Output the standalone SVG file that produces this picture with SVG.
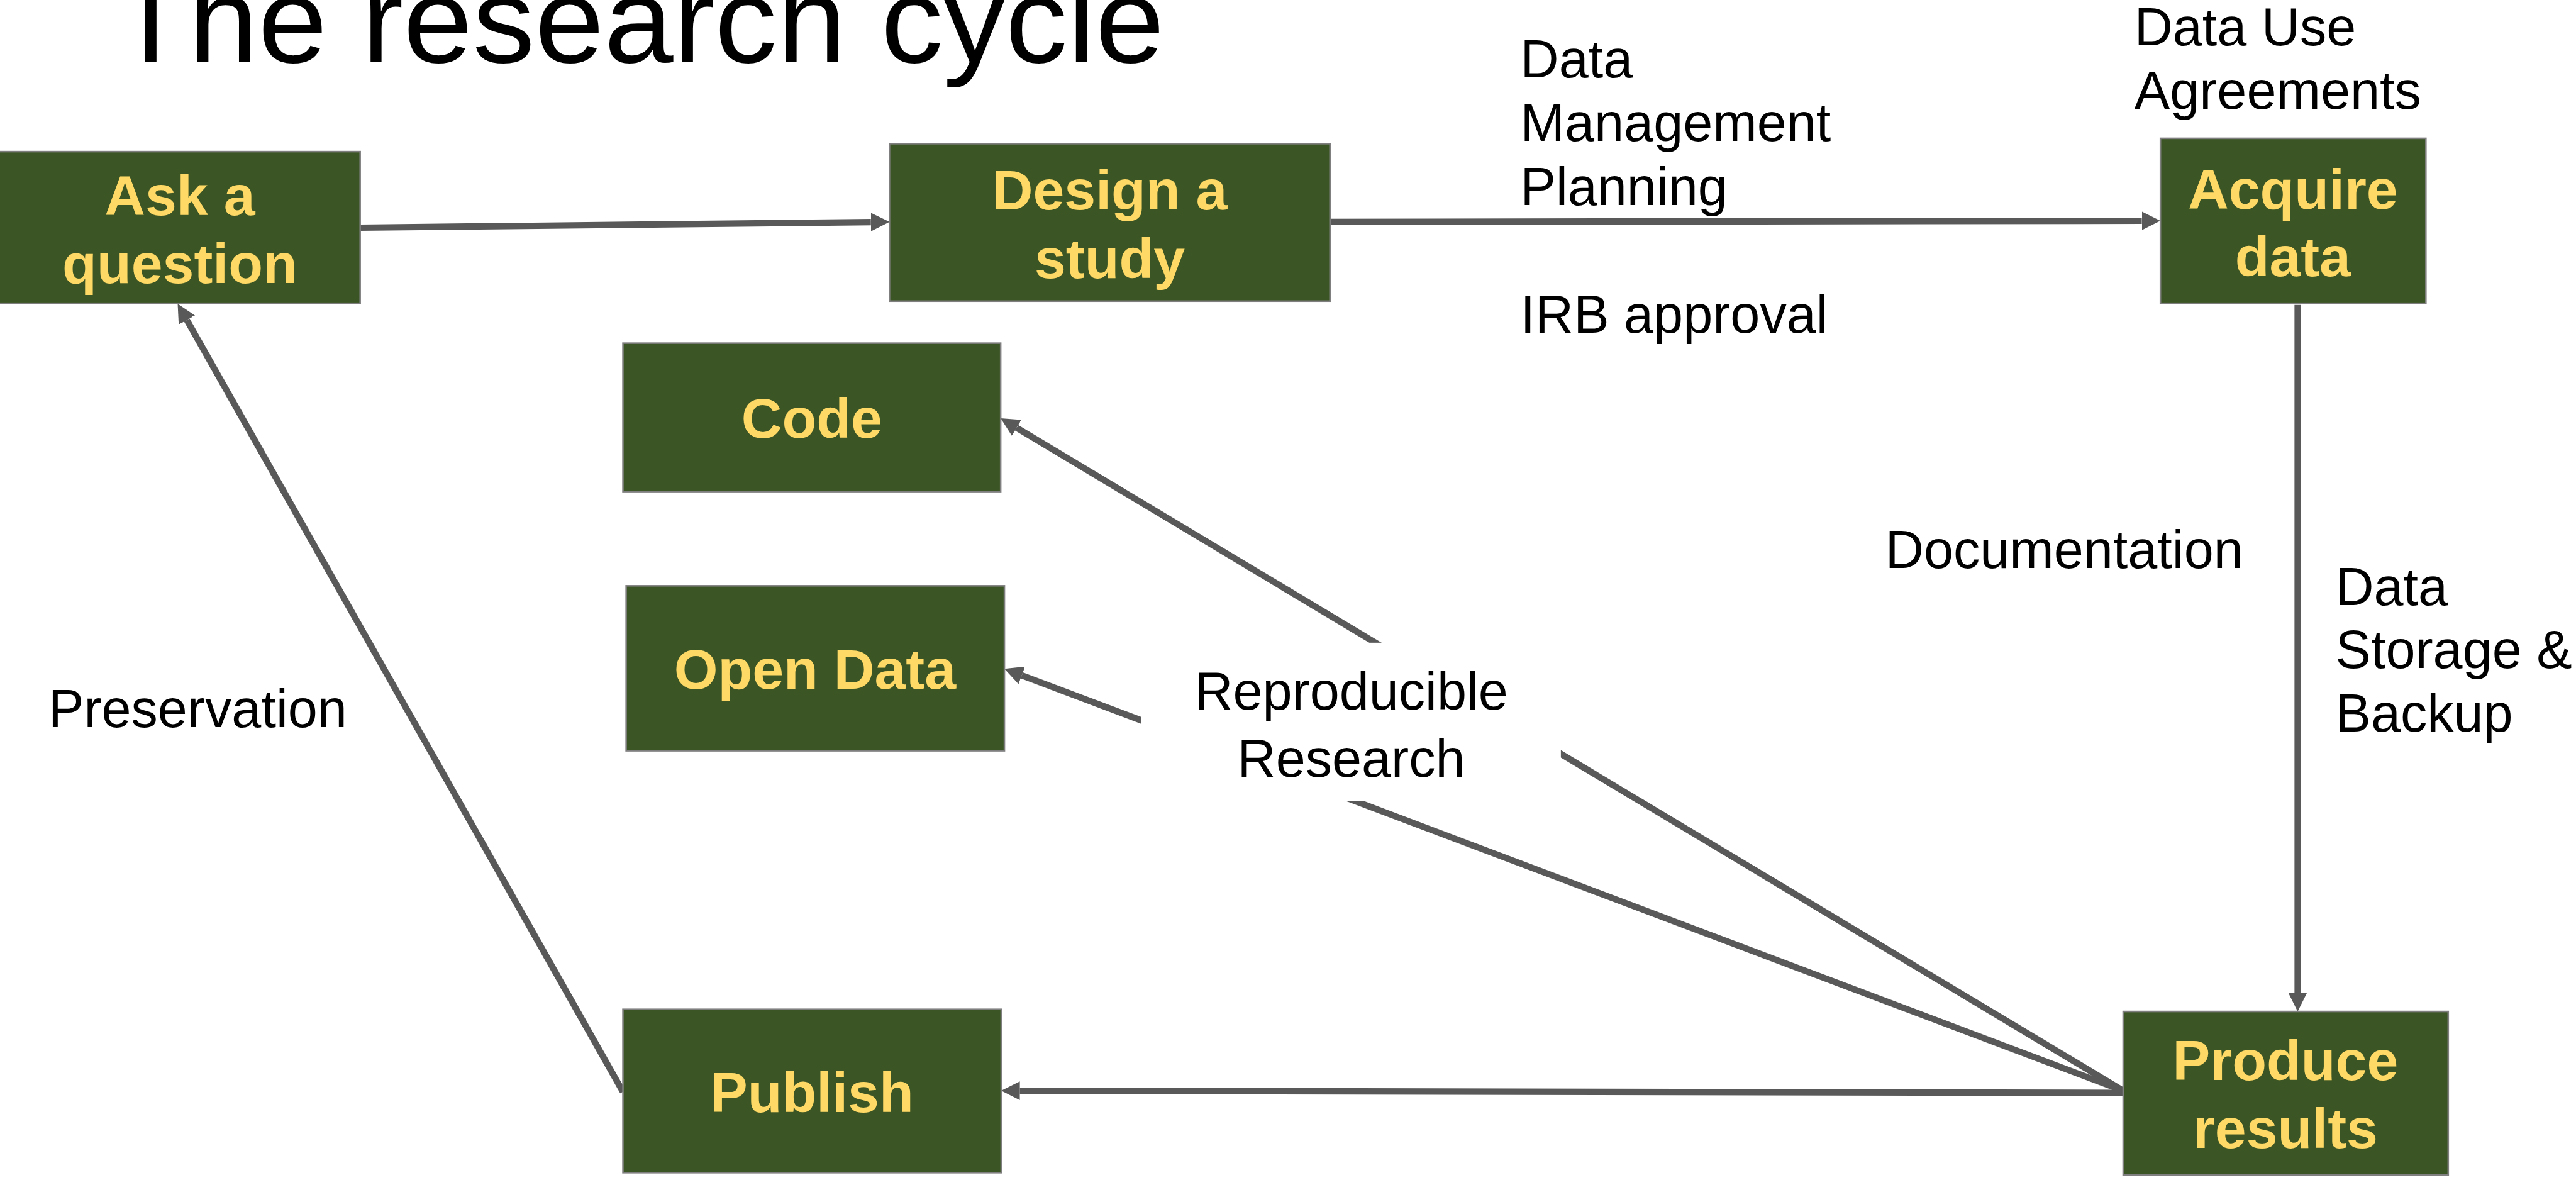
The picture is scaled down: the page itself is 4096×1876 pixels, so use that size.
<svg xmlns="http://www.w3.org/2000/svg" width="4096" height="1876" viewBox="0 0 4096 1876">
<style>
.box{fill:#3B5524;stroke:#7F7F7F;stroke-width:3}
.nt{font-family:"Liberation Sans",Arial,sans-serif;font-weight:bold;font-size:106px;fill:#FFD966;text-anchor:middle}
.lb{font-family:"Liberation Sans",Arial,sans-serif;font-size:100px;fill:#000}
.cn{stroke:#595959;stroke-width:12;fill:none;marker-end:url(#ah)}
</style>
<defs>
<marker id="ah" markerUnits="userSpaceOnUse" markerWidth="35" markerHeight="35" viewBox="0 0 35 35" refX="0" refY="17.5" orient="auto">
<path d="M0,0 L35,17.5 L0,35 z" fill="#595959"/>
</marker>
</defs>
<rect width="4096" height="1876" fill="#fff"/>
<g transform="scale(0.8459)">
<text id="title" x="212" y="117" font-family="'Liberation Sans',Arial,sans-serif" font-size="228" textLength="1977" lengthAdjust="spacingAndGlyphs" fill="#000">The research cycle</text>

<g id="connectors">
<path class="cn" d="M677,428 L1637,417.4"/>
<path class="cn" d="M2500,417 L4026,415"/>
<path class="cn" d="M4319,573 L4319,1866"/>
<path class="cn" d="M3991,2054 L1917,2050"/>
<path class="cn" d="M3991,2050 L1911,804"/>
<path class="cn" d="M3991,2050 L1920.7,1269.3"/>
<path class="cn" d="M1171,2052 L351.2,601.5"/>
</g>

<g id="labels">
<text class="lb" x="2858"><tspan x="2858" y="145">Data</tspan><tspan x="2858" y="265">Management</tspan><tspan x="2858" y="385">Planning</tspan></text>
<text class="lb" x="2858" y="625">IRB approval</text>
<text class="lb" x="4012"><tspan x="4012" y="85">Data Use</tspan><tspan x="4012" y="204">Agreements</tspan></text>
<text class="lb" x="91" y="1367">Preservation</text>
<text class="lb" x="3544" y="1068">Documentation</text>
<text class="lb" x="4390"><tspan x="4390" y="1137">Data</tspan><tspan x="4390" y="1256">Storage &amp;</tspan><tspan x="4390" y="1375">Backup</tspan></text>
<g id="reproducible">
<rect x="2145" y="1208" width="789" height="298" fill="#fff"/>
<text class="lb" font-size="109" text-anchor="middle"><tspan x="2540" y="1333">Reproducible</tspan><tspan x="2540" y="1460">Research</tspan></text>
</g>
</g>

<g id="ask"><rect class="box" x="-3" y="285" width="680" height="285"/><text class="nt"><tspan x="338" y="404">Ask a</tspan><tspan x="338" y="532">question</tspan></text></g>
<g id="design"><rect class="box" x="1672" y="270" width="828" height="296"/><text class="nt"><tspan x="2086" y="394">Design a</tspan><tspan x="2086" y="522">study</tspan></text></g>
<g id="acquire"><rect class="box" x="4061" y="260" width="499" height="310"/><text class="nt"><tspan x="4310" y="392">Acquire</tspan><tspan x="4310" y="519">data</tspan></text></g>
<g id="code"><rect class="box" x="1171" y="645" width="710" height="279"/><text class="nt" x="1526" y="823">Code</text></g>
<g id="opendata"><rect class="box" x="1177" y="1101" width="711" height="310"/><text class="nt" x="1532" y="1295">Open Data</text></g>
<g id="publish"><rect class="box" x="1171" y="1897" width="711" height="307"/><text class="nt" x="1526" y="2090">Publish</text></g>
<g id="produce"><rect class="box" x="3991" y="1901" width="611" height="307"/><text class="nt"><tspan x="4296" y="2030">Produce</tspan><tspan x="4296" y="2158">results</tspan></text></g>
</g>
</svg>
